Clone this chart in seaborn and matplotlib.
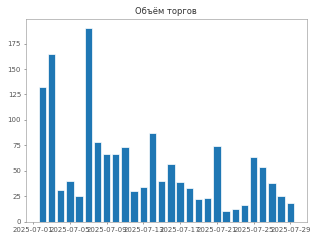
import matplotlib
matplotlib.use("Agg")
import matplotlib.pyplot as plt
import matplotlib.dates as mdates
import seaborn as sns
import pandas as pd

dates = pd.date_range("2025-07-02", "2025-07-29", freq="D")
volumes = [132, 165, 31, 40, 25, 190, 78, 66, 66, 73, 30, 34, 87, 40,
           57, 39, 33, 22, 23, 74, 10, 12, 16, 64, 54, 38, 25, 18]
title = "Объём торгов"

sns.set_style("ticks", {"axes.edgecolor": "#8c8c8c", "xtick.color": "#555555",
                        "ytick.color": "#555555", "text.color": "#333333"})
plt.rcParams["font.family"] = ["DejaVu Sans"]

fig, ax = plt.subplots(figsize=(6.4, 4.8), dpi=50)
ax.bar(dates, volumes, width=0.8, color="#1f77b4", edgecolor="white", linewidth=1)
ax.xaxis.set_major_locator(mdates.DayLocator(interval=4, bymonthday=None))
ax.xaxis.set_major_locator(mdates.DayLocator(bymonthday=[1, 5, 9, 13, 17, 21, 25, 29]))
ax.xaxis.set_major_formatter(mdates.DateFormatter("%Y-%m-%d"))
ax.set_title(title)
fig.tight_layout()
fig.savefig("out.png", dpi=50)
